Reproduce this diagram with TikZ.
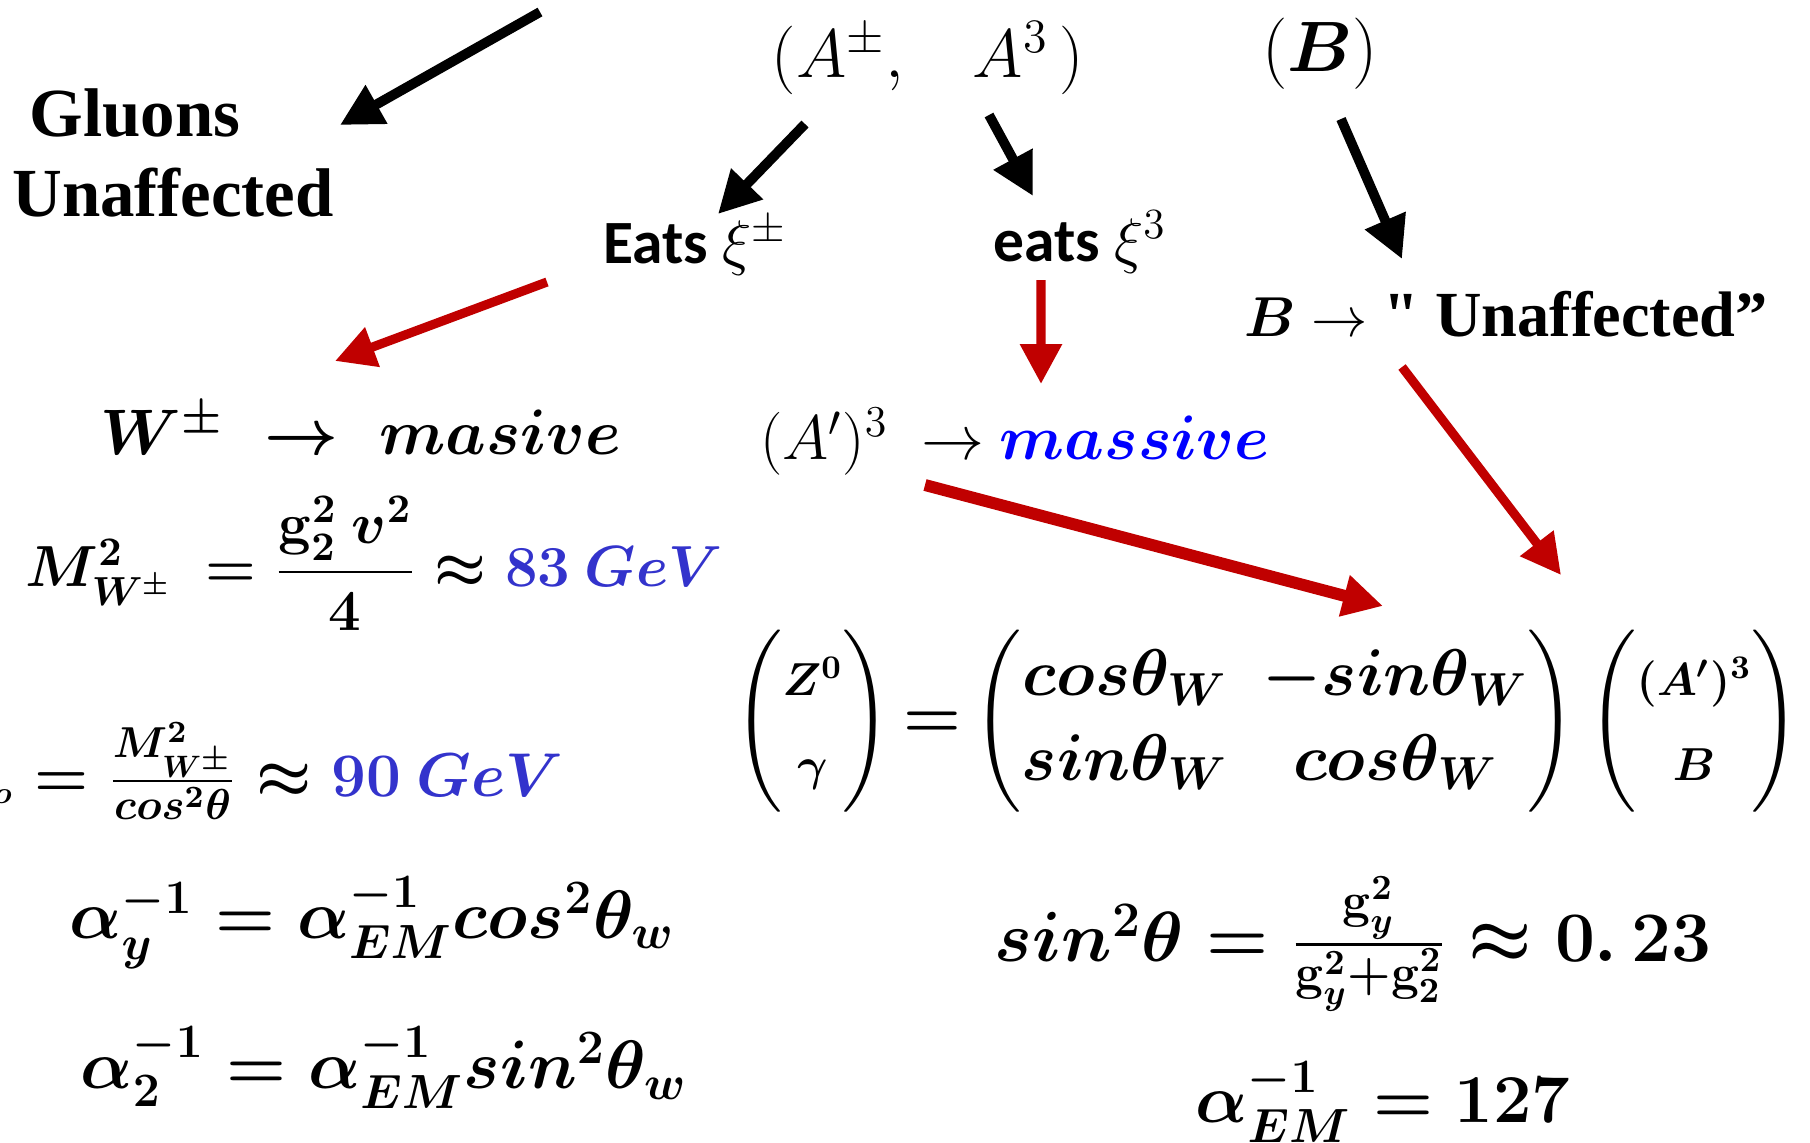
\RequirePackage{fix-cm}
\documentclass[tikz,border=0pt]{standalone}
\usepackage{amsmath}
\usepackage[no-math]{fontspec}
\setmainfont{Liberation Serif}
\newfontfamily\straightq{Liberation Serif}[Ligatures=TeXOff]
\newfontfamily\calibri{Carlito}
\usepackage{tikz}
\usetikzlibrary{arrows.meta, positioning, calc}
\definecolor{darkred}{RGB}{192,0,0}
\definecolor{gevblue}{RGB}{51,51,204}
\definecolor{massblue}{RGB}{0,0,255}
\tikzset{
  txt/.style={
    inner sep=0pt, align=left,
    font=\bfseries\fontsize{19.6}{23}\selectfont
  },
  eq/.style={
    inner sep=0pt, font=\fontsize{#1}{24}\selectfont\boldmath
  },
  eq/.default=18,
  eq thin/.style={
    inner sep=0pt, font=\fontsize{#1}{24}\selectfont
  },
  eq thin/.default=19.5,
  lbl/.style={
    inner sep=0pt, font=\calibri\bfseries\fontsize{17.5}{21}\selectfont
  },
  blk arrow/.style={
    -{Triangle[length=0.42cm,width=0.42cm]}, line width=2.8pt, draw=black
  },
  red arrow/.style={
    -{Triangle[length=0.40cm,width=0.40cm]}, line width=2.6pt,
    draw=darkred, fill=darkred
  }
}

\begin{document}
\begin{tikzpicture}
  \useasboundingbox (0,0) rectangle (18.10,-11.42);

  % top row
  \coordinate (top) at (5.40,-0.12);
  \node (gluons) [txt] at (1.73,-1.53) {~Gluons\\Unaffected};
  \node (vec) [eq thin] at (9.28,-0.58) {$(A^{\pm},\;\;\; A^{3}\,)$};
  \node (bfield) [eq thin=20.3] at (13.20,-0.54) {$(\boldsymbol{B})$};

  % eaten goldstones
  \node (eatsp) [lbl] at (6.95,-2.46) {Eats $\xi^{\pm}$};
  \node (eats3) [lbl] at (10.80,-2.42) {eats $\xi^{3}$};
  \node (bun) [txt, font=\bfseries\fontsize{18.3}{22}\selectfont] at (15.06,-3.14)
    {{\fontsize{16}{20}\selectfont$\boldsymbol{B}\rightarrow$} {\straightq"}~Unaffected”};

  % masses
  \node (wpm) [eq=18.3] at (3.61,-4.29) {$W^{\pm}\;\rightarrow\; masive$};
  \node (ap3) [eq thin=17.9] at (10.15,-4.42)
    {$(A')^{3}\ \rightarrow$ {\boldmath\color{massblue}$massive$}};
  \node (mw) [eq=16.5] at (3.74,-5.63)
    {$M^{2}_{W^{\pm}}\ = \dfrac{\mathbf{g}_{2}^{2}\ v^{2}}{4} \approx {\color{gevblue}83\ GeV}$};
  \node (mz) [eq=17.6, anchor=east] at (5.64,-7.71)
    {$M^{2}_{z^{o}} = \frac{M^{2}_{W^{\pm}}}{cos^{2}\theta} \approx {\color{gevblue}90\ GeV}$};
  \node (ay) [eq=19.5] at (3.72,-9.23)
    {$\alpha_{y}^{-1} = \alpha_{EM}^{-1}cos^{2}\theta_{w}$};
  \node (a2) [eq=19.5] at (3.84,-10.68)
    {$\alpha_{2}^{-1} = \alpha_{EM}^{-1}sin^{2}\theta_{w}$};

  % mixing
  \node (mix) [eq=18.8] at (12.67,-7.21)
    {\setlength\arraycolsep{5pt}%
     $\begin{pmatrix}\scriptstyle Z^{0}\\ \scriptstyle\gamma\end{pmatrix}{=}%
      \begin{pmatrix}cos\theta_{W} & -sin\theta_{W}\\ sin\theta_{W} & cos\theta_{W}\end{pmatrix}
      \begin{pmatrix}\scriptstyle (A')^{3}\\ \scriptstyle B\end{pmatrix}$};
  \node (s2) [eq=20.2] at (13.53,-9.44)
    {$sin^{2}\theta = \frac{\mathbf{g}_{y}^{2}}{\mathbf{g}_{y}^{2}+\mathbf{g}_{2}^{2}} \approx 0.\,23$};
  \node (aem) [eq=19.5] at (13.83,-11.02)
    {$\alpha_{EM}^{-1} = 127$};

  % black arrows
  \draw [blk arrow] (top) -- ([shift={(1.67,0.28)}]gluons.center);
  \draw [blk arrow] ([shift={(-1.23,-0.66)}]vec.center) -- ([shift={(0.23,0.32)}]eatsp.center);
  \draw [blk arrow] ([shift={(0.61,-0.57)}]vec.center) -- ([shift={(-0.47,0.46)}]eats3.center);
  \draw [blk arrow] ([shift={(0.21,-0.65)}]bfield.center) -- ([shift={(-1.04,0.55)}]bun.center);

  % red arrows
  \draw [red arrow] ([shift={(-1.48,-0.36)}]eatsp.center) -- ([shift={(-0.26,0.68)}]wpm.center);
  \draw [red arrow] ([shift={(-0.39,-0.38)}]eats3.center) -- ([shift={(0.26,0.58)}]ap3.center);
  \draw [red arrow] ([shift={(-1.04,-0.53)}]bun.center) -- ([shift={(2.94,1.46)}]mix.center);
  \draw [red arrow, line width=3.4pt] ([shift={(-0.90,-0.43)}]ap3.center) -- ([shift={(1.16,1.15)}]mix.center);
\end{tikzpicture}
\end{document}
